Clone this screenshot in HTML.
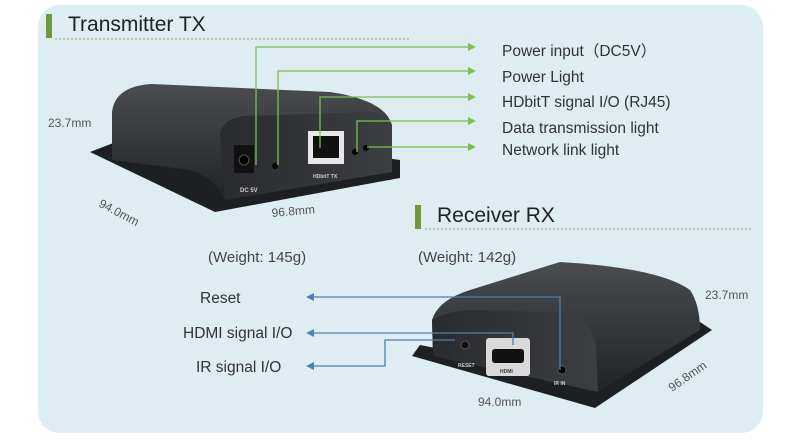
<!DOCTYPE html>
<html><head><meta charset="utf-8"><style>
body{margin:0;background:#fff;}
svg{display:block;font-family:"Liberation Sans",sans-serif;}
</style></head><body>
<svg width="799" height="442" viewBox="0 0 799 442">
<defs>
<linearGradient id="top" x1="0" y1="0" x2="0" y2="1"><stop offset="0" stop-color="#4a4c50"/><stop offset="1" stop-color="#222326"/></linearGradient>
<linearGradient id="side" x1="0" y1="0" x2="1" y2="0"><stop offset="0" stop-color="#2a2b2e"/><stop offset="1" stop-color="#3c3e42"/></linearGradient>
</defs>
<rect x="38" y="5" width="725" height="428" rx="22" fill="#ddedf2"/>
<rect x="46" y="14" width="6" height="24" fill="#6f9a3a"/>
<text x="68" y="31" font-size="21" fill="#222">Transmitter TX</text>
<line x1="55" y1="39" x2="410" y2="39" stroke="#8ab060" stroke-dasharray="2,2"/>
<rect x="415" y="205" width="6" height="24" fill="#6f9a3a"/>
<text x="437" y="222" font-size="21" fill="#222">Receiver RX</text>
<line x1="425" y1="229" x2="752" y2="229" stroke="#8ab060" stroke-dasharray="2,2"/>
<!-- TX device -->
<polygon points="90,152 215,212 400,178 400,160 160,125" fill="#1e1f22"/>
<path d="M112,160 L112,112 Q115,86 152,84 L330,92 Q385,100 392,125 L392,172 L225,200 Q215,178 190,170 Z" fill="url(#top)"/>
<path d="M220,135 Q222,118 245,116 L370,112 Q392,113 392,130 L392,172 L225,200 Z" fill="url(#side)"/>
<rect x="234" y="145" width="20" height="28" fill="#111"/><circle cx="244" cy="160" r="5" fill="#000" stroke="#555"/>
<circle cx="275" cy="166" r="3" fill="#000"/>
<rect x="308" y="131" width="36" height="33" fill="#e8e8e8"/><rect x="313" y="136" width="26" height="22" fill="#111"/>
<circle cx="355" cy="152" r="3" fill="#000"/><circle cx="366" cy="148" r="3" fill="#000"/>
<text x="240" y="192" font-size="6" fill="#ccc" font-weight="bold">DC 5V</text>
<text x="313" y="178" font-size="5" fill="#ccc" font-weight="bold">HDbitT TX</text>
<g stroke="#7cc04a" stroke-width="1.3" fill="none">
<polyline points="256,165 256,47 470,47"/>
<polyline points="278,165 278,71 470,71"/>
<polyline points="320,148 320,97 470,97"/>
<polyline points="357,152 357,121 470,121"/>
<polyline points="367,147 470,147"/>
</g>
<g fill="#7cc04a"><polygon points="476,47 468,43 468,51"/><polygon points="476,71 468,67 468,75"/><polygon points="476,97 468,93 468,101"/><polygon points="476,121 468,117 468,125"/><polygon points="476,147 468,143 468,151"/></g>
<g font-size="15.5" fill="#333">
<text x="502" y="56">Power input（DC5V）</text>
<text x="502" y="82">Power Light</text>
<text x="502" y="107">HDbitT signal I/O (RJ45)</text>
<text x="502" y="133">Data transmission light</text>
<text x="502" y="155">Network link light</text>
</g>
<g font-size="12" fill="#555">
<text x="48" y="127">23.7mm</text>
<text x="98" y="206" transform="rotate(28 98 206)">94.0mm</text>
<text x="272" y="217" transform="rotate(-5 272 217)">96.8mm</text>
<text x="478" y="406">94.0mm</text>
<text x="672" y="392" transform="rotate(-35 672 392)">96.8mm</text>
<text x="705" y="299">23.7mm</text>
</g>
<g font-size="15" fill="#444">
<text x="208" y="262">(Weight: 145g)</text>
<text x="418" y="262">(Weight: 142g)</text>
</g>
<!-- RX device -->
<polygon points="412,356 595,408 712,330 700,322 595,380 420,345" fill="#1e1f22"/>
<path d="M432,320 Q438,300 470,290 L560,262 Q660,268 690,290 Q700,305 700,330 L598,392 Q590,378 560,370 L433,356 Z" fill="url(#top)"/>
<path d="M432,320 Q445,312 470,310 L560,312 Q592,318 596,345 L598,392 L433,356 Z" fill="url(#side)"/>
<rect x="486" y="338" width="44" height="38" rx="3" fill="#d9d9d9"/>
<rect x="492" y="349" width="32" height="14" rx="3" fill="#111"/>
<circle cx="465" cy="345" r="4" fill="#111" stroke="#555"/>
<circle cx="562" cy="370" r="4" fill="#000" stroke="#555"/>
<text x="458" y="367" font-size="5" fill="#ccc" font-weight="bold">RESET</text>
<text x="500" y="373" font-size="5" fill="#333" font-weight="bold">HDMI</text>
<text x="554" y="385" font-size="5" fill="#ccc" font-weight="bold">IR IN</text>
<g stroke="#4f7fb0" stroke-width="1.3" fill="none">
<polyline points="560,370 560,297 312,297"/>
<polyline points="513,345 513,333 312,333"/>
<polyline points="455,340 385,340 385,366 312,366"/>
</g>
<g fill="#4f7fb0"><polygon points="306,297 314,293 314,301"/><polygon points="306,333 314,329 314,337"/><polygon points="306,366 314,362 314,370"/></g>
<g font-size="15.5" fill="#333">
<text x="200" y="303">Reset</text>
<text x="183" y="338">HDMI signal I/O</text>
<text x="196" y="372">IR signal I/O</text>
</g>
</svg>
</body></html>
